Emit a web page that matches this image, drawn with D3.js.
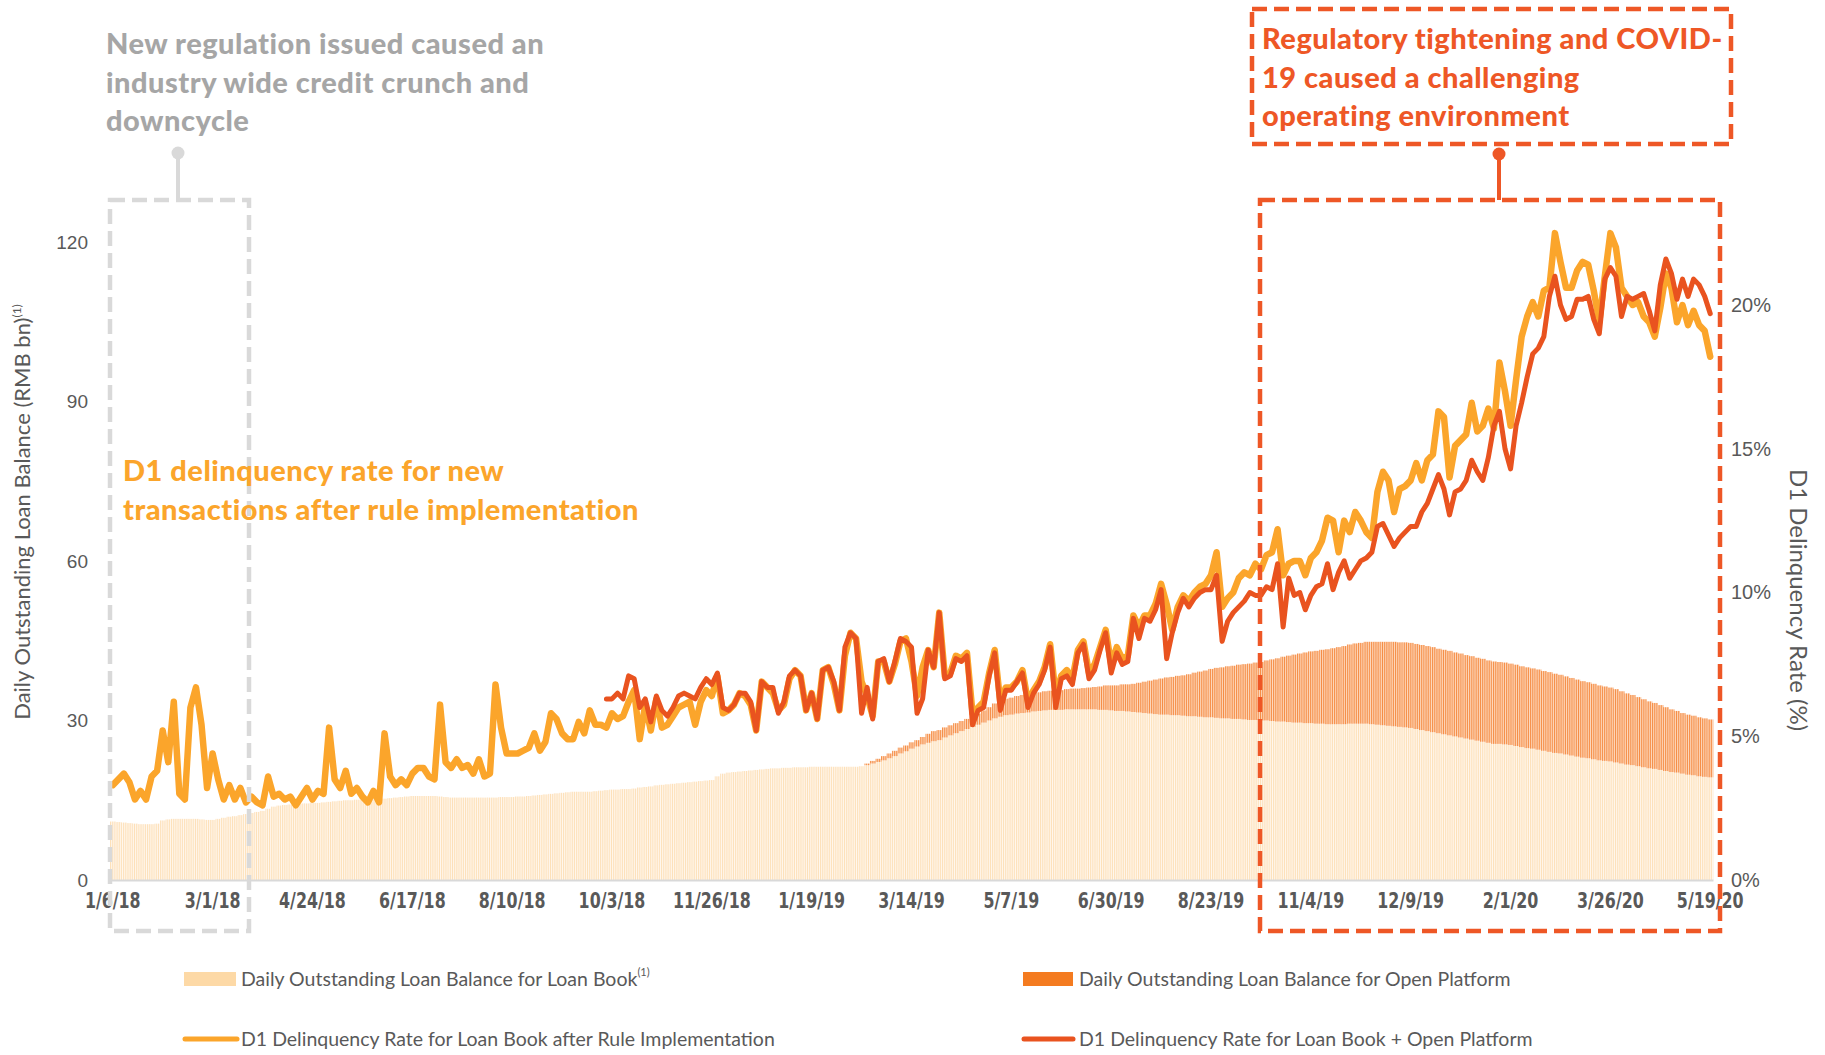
<!DOCTYPE html>
<html>
<head>
<meta charset="utf-8">
<script src="https://cdn.jsdelivr.net/npm/d3@7"></script>
<style>
  body { margin: 0; background: #fff; }
  svg { display: block; font-family: Lato, "Noto Sans", sans-serif; }
</style>
</head>
<body>
<svg id="chart" width="1825" height="1055"></svg>
<script>
// one point every 3 days, 1/6/18 .. 5/19/20
const stepDays = 3;
const tickEvery = 18;
const tickLabels = ["1/6/18", "3/1/18", "4/24/18", "6/17/18", "8/10/18", "10/3/18", "11/26/18",
  "1/19/19", "3/14/19", "5/7/19", "6/30/19", "8/23/19", "11/4/19", "12/9/19", "2/1/20", "3/26/20", "5/19/20"];

// daily outstanding loan balance, loan book (RMB bn)
const loanBook = [
  11.0,10.9,10.8,10.7,10.6,10.5,10.5,10.5,10.6,11.2,
  11.4,11.5,11.5,11.5,11.5,11.5,11.4,11.3,11.3,11.5,
  11.7,11.9,12.0,12.2,12.4,12.6,12.8,13.0,13.4,13.8,
  14.0,14.1,14.2,14.3,14.4,14.4,14.5,14.5,14.6,14.7,
  14.8,14.9,15.0,15.0,15.1,15.1,15.1,15.2,15.2,15.3,
  15.4,15.5,15.6,15.7,15.8,15.8,15.8,15.8,15.8,15.7,
  15.6,15.5,15.5,15.5,15.5,15.5,15.5,15.5,15.5,15.5,
  15.6,15.6,15.6,15.7,15.7,15.8,15.9,16.0,16.1,16.2,
  16.3,16.4,16.5,16.6,16.6,16.6,16.6,16.7,16.8,16.9,
  17.0,17.0,17.1,17.1,17.2,17.4,17.5,17.6,17.8,17.9,
  18.0,18.1,18.2,18.3,18.4,18.5,18.6,18.7,18.8,19.5,
  20.0,20.2,20.3,20.4,20.5,20.6,20.7,20.8,20.9,21.0,
  21.0,21.1,21.1,21.2,21.2,21.2,21.3,21.3,21.3,21.3,
  21.3,21.3,21.3,21.3,21.3,21.4,21.6,21.9,22.2,22.5,
  22.9,23.3,23.8,24.2,24.7,25.1,25.5,25.8,26.1,26.3,
  26.8,27.2,27.6,28.0,28.4,28.8,29.2,29.6,30.0,30.4,
  30.7,31.0,31.1,31.3,31.4,31.5,31.7,31.8,31.9,32.0,
  32.0,32.0,32.1,32.1,32.1,32.1,32.1,32.1,32.0,32.0,
  31.9,31.8,31.8,31.7,31.6,31.5,31.4,31.3,31.2,31.1,
  31.1,31.0,31.0,30.9,30.8,30.8,30.7,30.6,30.6,30.5,
  30.4,30.4,30.3,30.3,30.2,30.1,30.1,30.0,30.0,29.9,
  29.8,29.8,29.7,29.6,29.6,29.5,29.5,29.4,29.4,29.3,
  29.3,29.3,29.3,29.4,29.4,29.4,29.4,29.3,29.2,29.1,
  29.0,28.9,28.8,28.7,28.6,28.4,28.2,28.0,27.8,27.6,
  27.4,27.2,27.0,26.8,26.6,26.4,26.2,26.0,25.8,25.6,
  25.6,25.5,25.4,25.2,25.0,24.8,24.7,24.5,24.3,24.1,
  23.9,23.8,23.6,23.4,23.2,23.0,22.9,22.7,22.5,22.4,
  22.3,22.1,21.9,21.7,21.6,21.4,21.2,21.0,20.9,20.7,
  20.5,20.3,20.2,20.0,19.8,19.7,19.5,19.4,19.3
];

// daily outstanding loan balance, open platform (RMB bn), starts at point 136
const openStart = 136;
const openPlatform = [
  0.3,0.5,0.6,0.8,
  0.9,1.0,1.1,1.1,1.2,1.2,1.4,1.7,1.9,1.9,
  1.9,1.9,1.9,1.9,1.9,1.9,2.1,2.3,2.5,2.8,
  3.0,3.1,3.2,3.3,3.4,3.4,3.5,3.5,3.6,3.6,
  3.7,3.7,3.8,3.9,3.9,4.0,4.1,4.2,4.4,4.6,
  4.7,4.8,5.0,5.1,5.3,5.6,5.9,6.2,6.5,6.8,
  7.0,7.2,7.4,7.6,7.9,8.2,8.5,8.8,9.1,9.4,
  9.6,9.8,10.0,10.2,10.4,10.6,10.8,11.0,11.3,11.6,
  11.9,12.2,12.5,12.8,13.0,13.3,13.5,13.7,13.9,14.1,
  14.3,14.5,14.7,14.9,15.1,15.2,15.4,15.5,15.6,15.7,
  15.8,15.9,15.9,16.0,16.0,16.0,16.0,16.0,16.0,15.9,
  15.9,15.9,15.8,15.8,15.7,15.7,15.6,15.6,15.5,15.5,
  15.4,15.4,15.3,15.3,15.2,15.2,15.1,15.1,15.0,15.0,
  14.9,14.8,14.7,14.6,14.5,14.4,14.3,14.2,14.1,14.0,
  13.9,13.8,13.6,13.4,13.2,13.0,12.8,12.6,12.4,12.2,
  12.0,11.8,11.6,11.4,11.3,11.2,11.1,11.0,10.9
];

// D1 delinquency rate (%), loan book after rule implementation
const d1AfterRule = [
  3.3,3.5,3.7,3.4,2.8,3.1,2.8,3.6,3.8,5.2,
  4.1,6.2,3.0,2.8,6.0,6.7,5.4,3.2,4.4,3.5,
  2.8,3.3,2.8,3.2,2.7,2.9,2.7,2.6,3.6,2.9,
  3.0,2.8,2.9,2.6,2.9,3.2,2.8,3.1,3.0,5.3,
  3.5,3.2,3.8,3.0,3.2,2.9,2.7,3.1,2.7,5.1,
  3.6,3.3,3.5,3.3,3.7,3.9,3.9,3.6,3.5,6.1,
  4.1,3.9,4.2,3.9,4.0,3.7,4.2,3.6,3.7,6.8,
  5.3,4.4,4.4,4.4,4.5,4.6,5.1,4.5,4.8,5.8,
  5.6,5.1,4.9,4.9,5.5,5.1,5.9,5.4,5.4,5.3,
  5.8,5.6,5.7,6.2,6.6,4.9,6.1,5.2,6.3,5.3,
  5.4,5.7,6.0,6.1,6.2,5.4,6.2,6.6,6.4,7.1,
  5.8,5.9,6.1,6.5,6.4,6.1,5.2,6.9,6.7,6.5,
  5.9,6.1,7.0,7.3,7.1,5.9,6.5,5.6,7.3,7.4,
  6.8,5.9,7.8,8.6,8.4,6.9,6.4,5.7,7.6,7.6,
  6.9,7.5,8.3,8.4,7.6,6.4,7.4,8.0,7.4,9.3,
  7.1,7.2,7.8,7.7,7.9,5.8,6.0,6.2,7.2,8.0,
  6.2,6.7,6.7,6.9,7.3,6.2,6.6,6.9,7.4,8.2,
  6.4,7.1,7.3,7.0,8.0,8.3,7.2,7.5,8.1,8.7,
  7.5,8.1,7.7,7.8,9.2,8.8,9.2,9.2,9.6,10.3,
  9.6,8.7,9.5,9.9,9.7,10.0,10.2,10.3,10.6,11.4,
  9.5,9.8,10.0,10.5,10.7,10.6,11.0,10.8,11.3,11.4,
  12.2,10.6,11.0,11.1,11.1,10.6,11.2,11.4,11.8,12.6,
  12.5,11.4,12.5,12.1,12.8,12.5,12.1,11.9,13.5,14.2,
  13.9,12.8,13.6,13.7,13.9,14.5,13.9,14.6,14.8,16.3,
  16.1,14.0,15.1,15.3,15.5,16.6,15.6,15.8,16.4,15.7,
  18.0,17.0,15.8,17.4,18.9,19.6,20.1,19.6,20.5,20.6,
  22.5,21.5,20.6,20.6,21.2,21.5,21.4,20.5,19.4,21.0,
  22.5,22.0,20.6,20.3,20.0,20.1,19.6,19.4,18.9,19.9,
  21.1,20.6,19.4,20.0,19.3,19.8,19.3,19.1,18.2
];

// D1 delinquency rate (%), loan book + open platform, starts at point 89
const combinedStart = 89;
const d1Combined = [
  6.3,
  6.3,6.5,6.3,7.1,7.0,6.0,6.3,5.5,6.4,5.9,
  5.7,6.0,6.4,6.5,6.4,6.3,6.7,7.0,6.8,7.2,
  6.0,5.9,6.1,6.5,6.5,6.2,5.2,6.9,6.7,6.7,
  5.8,6.2,7.1,7.3,7.1,5.9,6.5,5.6,7.3,7.4,
  6.9,5.9,8.1,8.6,8.4,5.8,6.7,5.6,7.6,7.7,
  6.9,7.6,8.4,8.3,8.1,5.8,6.3,8.0,7.4,9.3,
  7.0,7.1,7.7,7.6,7.8,5.4,5.9,6.0,7.1,7.9,
  5.9,6.6,6.6,6.9,7.2,6.0,6.5,6.8,7.3,8.1,
  6.0,7.0,7.1,6.8,7.9,8.2,7.0,7.3,8.0,8.6,
  7.2,7.9,7.5,7.6,9.1,8.4,9.1,9.0,9.4,10.1,
  7.7,8.6,9.3,9.8,9.5,9.8,10.0,10.1,10.1,10.6,
  8.3,9.0,9.3,9.5,9.7,10.0,9.9,9.9,10.2,10.1,
  11.0,8.8,10.5,9.9,10.0,9.4,9.9,10.2,10.3,11.0,
  10.1,10.7,11.1,10.5,10.8,11.1,11.2,11.4,12.3,12.4,
  12.0,11.6,11.9,12.1,12.3,12.3,12.8,13.1,13.6,14.1,
  13.6,12.7,13.5,13.6,13.9,14.6,14.2,13.9,14.7,15.8,
  16.3,15.0,14.3,15.8,16.6,17.5,18.3,18.5,18.9,20.3,
  21.0,20.0,19.5,19.6,20.2,20.2,20.3,19.5,19.0,20.9,
  21.3,21.0,19.6,20.3,20.2,20.3,20.4,19.8,19.1,20.7,
  21.6,21.1,20.2,20.9,20.3,20.9,20.7,20.3,19.7
];

const balanceTicks = [0, 30, 60, 90, 120];
const rateTicks = [0, 5, 10, 15, 20];

const C = {
  book: "#fdd9a6", bookBg: "#fff7ee", bookLine: "#fde0b8",
  open: "#f47b20", openBg: "#fdd8bd", openLine: "#f58d45",
  lineAfter: "#fba52b", lineAll: "#e9531f",
  grey: "#595959", annoGrey: "#a6a6a6", boxGrey: "#d9d9d9", red: "#ee5726"
};

const svg = d3.select("#chart");
const n = loanBook.length;

const x = d3.scaleBand().domain(d3.range(n)).range([110, 1713]).padding(0);
const bw = x.bandwidth();
const yL = d3.scaleLinear().domain([0, 120]).range([880, 242]);
const yR = d3.scaleLinear().domain([0, 20]).range([880, 305]);

// daily stripe textures for the bars
const defs = svg.append("defs");
function stripes(id, bg, line) {
  const w = bw / stepDays;
  const p = defs.append("pattern").attr("id", id)
    .attr("patternUnits", "userSpaceOnUse").attr("x", 110)
    .attr("width", w).attr("height", 20);
  p.append("rect").attr("width", w).attr("height", 20).attr("fill", bg);
  p.append("rect").attr("width", w * 0.5).attr("height", 20).attr("fill", line);
}
stripes("stripeBook", C.bookBg, C.bookLine);
stripes("stripeOpen", C.openBg, C.openLine);

svg.append("g").selectAll("rect")
  .data(loanBook)
  .join("rect")
  .attr("x", (d, i) => x(i))
  .attr("width", bw + 0.3)
  .attr("y", d => yL(d))
  .attr("height", d => yL(0) - yL(d))
  .attr("fill", "url(#stripeBook)");

svg.append("g").selectAll("rect")
  .data(openPlatform)
  .join("rect")
  .attr("x", (d, k) => x(k + openStart))
  .attr("width", bw + 0.3)
  .attr("y", (d, k) => yL(loanBook[k + openStart] + d))
  .attr("height", (d, k) => yL(loanBook[k + openStart]) - yL(loanBook[k + openStart] + d))
  .attr("fill", "url(#stripeOpen)");

// x axis
const xAxis = svg.append("g")
  .attr("transform", "translate(0,880)")
  .call(d3.axisBottom(x)
    .tickValues(tickLabels.map((t, k) => k * tickEvery))
    .tickFormat(i => tickLabels[i / tickEvery])
    .tickSize(0).tickSizeOuter(0).tickPadding(13));
xAxis.select(".domain").attr("stroke", "#d9d9d9").attr("stroke-width", 2);
xAxis.selectAll("text")
  .attr("fill", C.grey)
  .attr("transform", "scale(0.84,1)")
  .style("font-family", "'Liberation Sans Narrow', 'DejaVu Sans Condensed', sans-serif")
  .style("font-weight", 700)
  .style("font-size", "21px");

// left axis
const yAxisL = svg.append("g")
  .attr("transform", "translate(88,0)")
  .call(d3.axisLeft(yL).tickValues(balanceTicks).tickSize(0).tickPadding(0));
yAxisL.select(".domain").remove();
yAxisL.selectAll("text").attr("fill", C.grey).style("font-size", "19px");

// right axis
const yAxisR = svg.append("g")
  .attr("transform", "translate(1731,0)")
  .call(d3.axisRight(yR).tickValues(rateTicks).tickFormat(d => d + "%").tickSize(0).tickPadding(0));
yAxisR.select(".domain").remove();
yAxisR.selectAll("text").attr("fill", C.grey).style("font-size", "20px");

// axis titles
const tL = svg.append("text")
  .attr("transform", "translate(30,512) rotate(-90)")
  .attr("text-anchor", "middle")
  .attr("fill", C.grey)
  .style("font-size", "22px");
tL.append("tspan").text("Daily Outstanding Loan Balance (RMB bn)");
tL.append("tspan").attr("dy", -9).style("font-size", "12px").text("(1)");

svg.append("text")
  .attr("transform", "translate(1790,600) rotate(90)")
  .attr("text-anchor", "middle")
  .attr("fill", C.grey)
  .style("font-size", "24px")
  .text("D1 Delinquency Rate (%)");

// lines
const lineAfter = d3.line()
  .x((d, i) => x(i) + bw / 2)
  .y(d => yR(d));
const lineAll = d3.line()
  .x((d, k) => x(k + combinedStart) + bw / 2)
  .y(d => yR(d));

svg.append("path")
  .attr("d", lineAfter(d1AfterRule))
  .attr("fill", "none")
  .attr("stroke", C.lineAfter)
  .attr("stroke-width", 6.5)
  .attr("stroke-linejoin", "round")
  .attr("stroke-linecap", "round");

svg.append("path")
  .attr("d", lineAll(d1Combined))
  .attr("fill", "none")
  .attr("stroke", C.lineAll)
  .attr("stroke-width", 5)
  .attr("stroke-linejoin", "round")
  .attr("stroke-linecap", "round");

// annotation boxes
const dash = "15 7";
function dashedBox(x0, y0, x1, y1, color) {
  svg.append("rect")
    .attr("x", x0).attr("y", y0).attr("width", x1 - x0).attr("height", y1 - y0)
    .attr("fill", "none").attr("stroke", color)
    .attr("stroke-width", 4.5).attr("stroke-dasharray", dash);
}
function pin(cx, cy, y1, color) {
  svg.append("line").attr("x1", cx).attr("x2", cx).attr("y1", cy).attr("y2", y1)
    .attr("stroke", color).attr("stroke-width", 4);
  svg.append("circle").attr("cx", cx).attr("cy", cy).attr("r", 6.5).attr("fill", color);
}

dashedBox(110, 200, 249, 931, C.boxGrey);
pin(178, 153, 200, C.boxGrey);

dashedBox(1260, 200, 1720, 931, C.red);
dashedBox(1252, 9, 1731, 144, C.red);
pin(1499, 154, 200, C.red);

function block(lines, x0, y0, lh, color) {
  const t = svg.append("text")
    .attr("fill", color)
    .style("font-weight", 900)
    .style("font-size", "29px")
    .style("letter-spacing", "0.5px");
  lines.forEach((s, k) => {
    t.append("tspan").attr("x", x0).attr("y", y0 + k * lh).text(s);
  });
}
block(["New regulation issued caused an", "industry wide credit crunch and", "downcycle"],
  106, 54, 38.5, C.annoGrey);
block(["Regulatory tightening and COVID-", "19 caused a challenging", "operating environment"],
  1262, 49, 38.5, C.red);
block(["D1 delinquency rate for new", "transactions after rule implementation"],
  123, 481, 39, C.lineAfter);

// legend
const leg = svg.append("g").style("font-size", "19.5px").attr("fill", C.grey);
leg.append("rect").attr("x", 184).attr("y", 972).attr("width", 52).attr("height", 14).attr("fill", C.book);
const l1 = leg.append("text").attr("x", 241).attr("y", 986);
l1.append("tspan").text("Daily Outstanding Loan Balance for Loan Book");
l1.append("tspan").attr("dy", -10).style("font-size", "11px").text("(1)");

leg.append("rect").attr("x", 1023).attr("y", 972).attr("width", 50).attr("height", 14).attr("fill", C.open);
leg.append("text").attr("x", 1079).attr("y", 986).text("Daily Outstanding Loan Balance for Open Platform");

leg.append("line").attr("x1", 185).attr("x2", 237).attr("y1", 1039).attr("y2", 1039)
  .attr("stroke", C.lineAfter).attr("stroke-width", 5).attr("stroke-linecap", "round");
leg.append("text").attr("x", 241).attr("y", 1046).text("D1 Delinquency Rate for Loan Book after Rule Implementation");

leg.append("line").attr("x1", 1024).attr("x2", 1073).attr("y1", 1039).attr("y2", 1039)
  .attr("stroke", C.lineAll).attr("stroke-width", 5).attr("stroke-linecap", "round");
leg.append("text").attr("x", 1079).attr("y", 1046).text("D1 Delinquency Rate for Loan Book + Open Platform");
</script>
</body>
</html>
